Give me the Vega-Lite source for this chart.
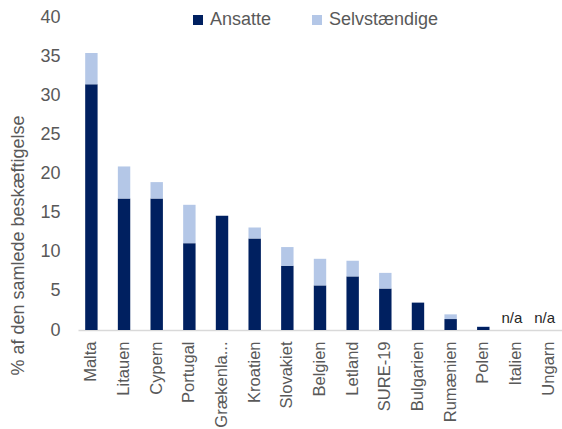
{
  "$schema": "https://vega.github.io/schema/vega-lite/v6.json",
  "autosize": {"type": "none"},
  "width": 484,
  "height": 313,
  "padding": {"left": 78, "top": 17, "right": 0, "bottom": 99},
  "background": "white",
  "config": {
    "view": {"stroke": null},
    "font": "Liberation Sans",
    "axis": {"labelFont": "Liberation Sans", "titleFont": "Liberation Sans", "labelColor": "#595959", "titleColor": "#595959"}
  },
  "data": {
    "values": [
      {"land": "Malta", "type": "Ansatte", "value": 31.4},
      {"land": "Malta", "type": "Selvstændige", "value": 4.0},
      {"land": "Litauen", "type": "Ansatte", "value": 16.8},
      {"land": "Litauen", "type": "Selvstændige", "value": 4.1},
      {"land": "Cypern", "type": "Ansatte", "value": 16.8},
      {"land": "Cypern", "type": "Selvstændige", "value": 2.1},
      {"land": "Portugal", "type": "Ansatte", "value": 11.1},
      {"land": "Portugal", "type": "Selvstændige", "value": 4.9},
      {"land": "Grækenland", "type": "Ansatte", "value": 14.6},
      {"land": "Grækenland", "type": "Selvstændige", "value": 0},
      {"land": "Kroatien", "type": "Ansatte", "value": 11.7},
      {"land": "Kroatien", "type": "Selvstændige", "value": 1.4},
      {"land": "Slovakiet", "type": "Ansatte", "value": 8.2},
      {"land": "Slovakiet", "type": "Selvstændige", "value": 2.4},
      {"land": "Belgien", "type": "Ansatte", "value": 5.7},
      {"land": "Belgien", "type": "Selvstændige", "value": 3.4},
      {"land": "Letland", "type": "Ansatte", "value": 6.85},
      {"land": "Letland", "type": "Selvstændige", "value": 2.0},
      {"land": "SURE-19", "type": "Ansatte", "value": 5.3},
      {"land": "SURE-19", "type": "Selvstændige", "value": 2.0},
      {"land": "Bulgarien", "type": "Ansatte", "value": 3.5},
      {"land": "Bulgarien", "type": "Selvstændige", "value": 0},
      {"land": "Rumænien", "type": "Ansatte", "value": 1.4},
      {"land": "Rumænien", "type": "Selvstændige", "value": 0.6},
      {"land": "Polen", "type": "Ansatte", "value": 0.4},
      {"land": "Polen", "type": "Selvstændige", "value": 0.07},
      {"land": "Italien", "type": "na", "value": 1.5, "label": "n/a"},
      {"land": "Ungarn", "type": "na", "value": 1.5, "label": "n/a"}
    ]
  },
  "encoding": {
    "x": {
      "field": "land", "type": "nominal",
      "sort": ["Malta", "Litauen", "Cypern", "Portugal", "Grækenland", "Kroatien", "Slovakiet", "Belgien", "Letland", "SURE-19", "Bulgarien", "Rumænien", "Polen", "Italien", "Ungarn"],
      "scale": {"domain": ["Malta", "Litauen", "Cypern", "Portugal", "Grækenland", "Kroatien", "Slovakiet", "Belgien", "Letland", "SURE-19", "Bulgarien", "Rumænien", "Polen", "Italien", "Ungarn"], "paddingInner": 0.62, "paddingOuter": 0.22},
      "axis": {
        "title": null, "labelAngle": -90, "labelFontSize": 16.5, "labelPadding": 11,
        "ticks": false, "domainColor": "#d9d9d9", "domainWidth": 1.5,
        "labelLimit": 200, "labelOverlap": false,
        "labelExpr": "datum.label == 'Grækenland' ? 'Grækenla...' : datum.label"
      }
    },
    "y": {
      "field": "value", "type": "quantitative",
      "scale": {"domain": [0, 40], "nice": false},
      "axis": {
        "title": "% af den samlede beskæftigelse", "titleFontSize": 18, "titleFontWeight": "normal",
        "titleAngle": -90, "titleX": -51, "titleY": 228, "titleAlign": "center", "titleBaseline": "bottom",
        "values": [0, 5, 10, 15, 20, 25, 30, 35, 40], "labelFontSize": 18, "labelPadding": 18,
        "labelOverlap": false,
        "ticks": false, "domain": false, "grid": false
      }
    }
  },
  "layer": [
    {
      "transform": [{"filter": "datum.type != 'na'"}],
      "mark": {"type": "bar"},
      "encoding": {
        "y": {
          "field": "value", "type": "quantitative", "stack": "zero"
        },
        "color": {
          "field": "type", "type": "nominal",
          "scale": {"domain": ["Ansatte", "Selvstændige"], "range": ["#002060", "#b4c7e7"]},
          "legend": {
            "title": null, "orient": "none", "direction": "horizontal", "legendX": 111, "legendY": -6,
            "symbolType": "square", "symbolSize": 100, "symbolStrokeWidth": 0, "labelFontSize": 18, "labelColor": "#595959",
            "labelOffset": 3, "columnPadding": 36, "padding": 0
          }
        },
        "order": {"field": "type", "sort": "ascending"}
      }
    },
    {
      "transform": [{"filter": "datum.type == 'na'"}],
      "mark": {"type": "text", "fontSize": 15, "color": "#262626", "baseline": "middle", "dx": -4},
      "encoding": {
        "text": {"field": "label"}
      }
    }
  ]
}
